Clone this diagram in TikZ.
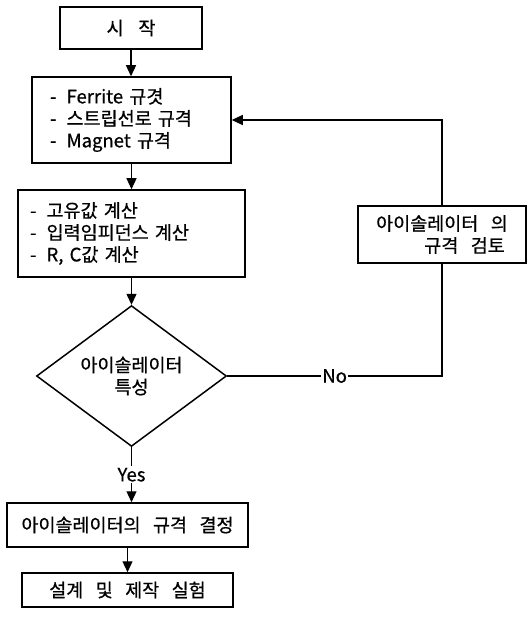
\documentclass[tikz,border=0pt]{standalone}
\usepackage{fontspec}
\setmainfont{Noto Sans CJK KR}[WordSpace=3, FakeBold=0.6]
\usetikzlibrary{arrows.meta,shapes.geometric}
\newcommand{\dsh}{-\hspace{0.55em}}
\begin{document}
\begin{tikzpicture}[x=1pt,y=-1pt,
  font=\fontsize{18.5}{22}\selectfont,
  box/.style={draw, line width=1.5pt, inner sep=0pt},
  arr/.style={line width=1.2pt, -{Triangle[length=11pt,width=10pt]}},
  conn/.style={line width=1.2pt},
  lbl/.style={fill=white, inner sep=1.5pt}]
\useasboundingbox (0,0) rectangle (527,617);
\node[box, minimum width=142pt, minimum height=42pt] (start) at (131,28) {시\hspace{0.8em}작};
\node[box, minimum width=199pt, minimum height=86pt, align=left, text width=181pt, inner xsep=9pt] (spec) at (131.5,120)
  {\hspace*{9pt}\dsh Ferrite 규겻\\\hspace*{9pt}\dsh 스트립선로 규격\\\hspace*{9pt}\dsh Magnet 규격};
\node[box, minimum width=227pt, minimum height=87pt, align=left, text width=207pt, inner xsep=10pt] (calc) at (131.5,233.5)
  {\hspace*{2pt}\dsh 고유값 계산\\\hspace*{2pt}\dsh 입력임피던스 계산\\\hspace*{2pt}\dsh R, C값 계산};
\node[draw, diamond, line width=1.5pt, minimum width=190pt, minimum height=140pt, inner sep=0pt, align=center] (dia) at (131.5,376)
  {아이솔레이터\\특성};
\node[box, minimum width=168pt, minimum height=57pt, align=left] (rev) at (442,234.5)
  {아이솔레이터 의\\\hspace*{2.6em}규격 검토};
\node[box, minimum width=241pt, minimum height=44pt] (dec) at (127.5,525) {아이솔레이터의 규격 결정};
\node[box, minimum width=211pt, minimum height=34pt] (exp) at (127.5,590) {설계 및 제작 실험};
\draw[arr] (start.south) -- (start.south |- spec.north);
\draw[arr] (spec.south) -- (spec.south |- calc.north);
\draw[arr] (calc.south) -- (calc.south |- dia.north);
\draw[arr] (dia.south) -- node[lbl] (yes) {Yes} (dia.south |- dec.north);
\draw[arr] (dec.south -| exp.north) -- (exp.north);
\draw[conn] (dia.east) -- node[lbl] (no) {No} (dia.east -| rev.south) -- (rev.south);
\draw[arr] (rev.north) -- (rev.north |- spec.east) -- (spec.east);
\end{tikzpicture}
\end{document}
